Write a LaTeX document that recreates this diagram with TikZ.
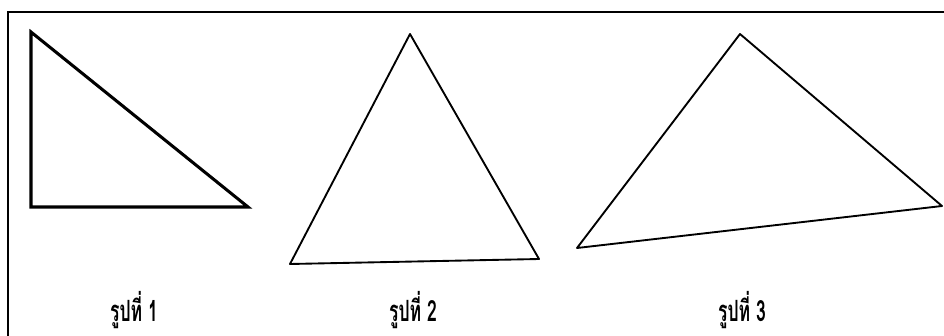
\documentclass[tikz,border=0pt]{standalone}
\usepackage{fontspec}
\newfontfamily\thaifont[Script=Thai]{Loma}
\usepackage{tikz}
\usetikzlibrary{positioning}

\begin{document}
\begin{tikzpicture}[
    x=0.03cm, y=-0.03cm,
    frame/.style={draw=black, line width=1.3pt},
    tri/.style={draw=black, line width=1.6pt, line join=round},
    trithick/.style={draw=black, line width=2.6pt, line join=miter},
    caption/.style={font=\thaifont\bfseries\fontsize{25}{30}\selectfont, xscale=0.6, inner sep=0pt, anchor=base}
]
    \useasboundingbox (0,0) rectangle (944,336);
    % outer frame (open at right and bottom)
    \draw[frame] (8,336) -- (8,12) -- (944,12);

    % figure 1: right triangle
    \coordinate (a1) at (31,32);
    \coordinate (b1) at (31,207);
    \coordinate (c1) at (248,207);
    \draw[trithick] (a1) -- (b1) -- (c1) -- cycle;

    % figure 2
    \coordinate (a2) at (410,34);
    \coordinate (b2) at (290,264);
    \coordinate (c2) at (539,259);
    \draw[tri] (a2) -- (b2) -- (c2) -- cycle;

    % figure 3
    \coordinate (a3) at (740,34);
    \coordinate (b3) at (577,248);
    \coordinate (c3) at (942,206);
    \draw[tri] (a3) -- (b3) -- (c3) -- cycle;

    \node[caption] (cap1) at (134,321) {รูปที่ 1};
    \node[caption] (cap2) at (413,321) {รูปที่ 2};
    \node[caption] (cap3) at (742,321) {รูปที่ 3};
\end{tikzpicture}
\end{document}
